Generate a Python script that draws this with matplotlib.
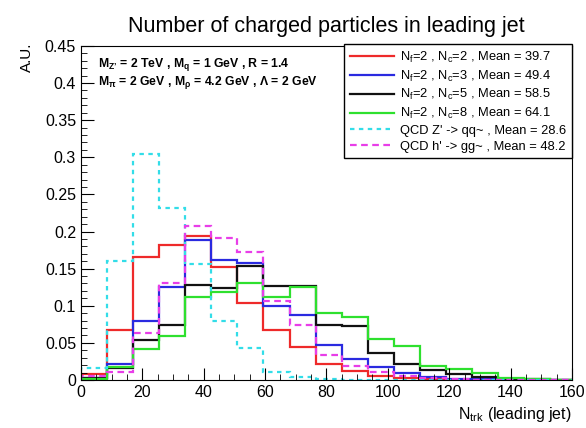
import numpy as np
import matplotlib
matplotlib.use('Agg')
import matplotlib.pyplot as plt
from matplotlib.ticker import MultipleLocator

plt.rcParams['font.family'] = ['Liberation Sans', 'DejaVu Sans']
plt.rcParams['mathtext.fontset'] = 'custom'
plt.rcParams['mathtext.rm'] = 'Liberation Sans'
plt.rcParams['mathtext.it'] = 'Liberation Sans'
plt.rcParams['mathtext.bf'] = 'Liberation Sans:bold'

# histogram binning: 20 bins of width 8.5 from 0 to 170
bin_edges = np.linspace(0, 170, 21)

# normalised bin contents
nc2 = [0.008, 0.067, 0.166, 0.182, 0.194, 0.152, 0.104, 0.067, 0.044, 0.021,
       0.012, 0.006, 0.003, 0.001, 0.0, 0.0, 0.0, 0.0, 0.0, 0.0]
nc3 = [0.003, 0.021, 0.079, 0.125, 0.188, 0.161, 0.158, 0.100, 0.088, 0.047,
       0.028, 0.017, 0.009, 0.004, 0.002, 0.001, 0.0, 0.0, 0.0, 0.0]
nc5 = [0.003, 0.016, 0.054, 0.074, 0.128, 0.124, 0.154, 0.127, 0.126, 0.074,
       0.073, 0.036, 0.021, 0.013, 0.008, 0.0045, 0.002, 0.001, 0.0, 0.0]
nc8 = [0.002, 0.018, 0.042, 0.059, 0.112, 0.118, 0.131, 0.112, 0.125, 0.090,
       0.085, 0.055, 0.046, 0.019, 0.015, 0.010, 0.003, 0.001, 0.0, 0.0]
qcd_zp = [0.016, 0.160, 0.305, 0.231, 0.156, 0.079, 0.043, 0.011, 0.004, 0.002,
          0.0, 0.0, 0.0, 0.0, 0.0, 0.0, 0.0, 0.0, 0.0, 0.0]
qcd_hp = [0.005, 0.011, 0.064, 0.131, 0.207, 0.191, 0.173, 0.106, 0.074, 0.034,
          0.019, 0.011, 0.005, 0.003, 0.001, 0.0, 0.0, 0.0, 0.0, 0.0]

labels = [r'N$_{\rm f}$=2 , N$_{\rm c}$=2 , Mean = 39.7',
          r'N$_{\rm f}$=2 , N$_{\rm c}$=3 , Mean = 49.4',
          r'N$_{\rm f}$=2 , N$_{\rm c}$=5 , Mean = 58.5',
          r'N$_{\rm f}$=2 , N$_{\rm c}$=8 , Mean = 64.1',
          "QCD Z' -> qq~ , Mean = 28.6",
          "QCD h' -> gg~ , Mean = 48.2"]

fig = plt.figure(figsize=(5.86, 4.28), dpi=100)
ax = fig.add_axes([0.138, 0.112, 0.838, 0.781])

ax.stairs(nc2, bin_edges, color='#ee2a2a', lw=1.6, label=labels[0])
ax.stairs(nc3, bin_edges, color='#2a2ae0', lw=1.6, label=labels[1])
ax.stairs(nc5, bin_edges, color='#111111', lw=1.6, label=labels[2])
ax.stairs(nc8, bin_edges, color='#2ee02e', lw=1.6, label=labels[3])
ax.stairs(qcd_zp, bin_edges, color='#33dde8', lw=1.6, ls=(0, (2, 2)), label=labels[4])
ax.stairs(qcd_hp, bin_edges, color='#e83ee8', lw=1.6, ls=(0, (3, 2)), label=labels[5])

ax.set_xlim(0, 160)
ax.set_ylim(0, 0.45)
ax.xaxis.set_major_locator(MultipleLocator(20))
ax.xaxis.set_minor_locator(MultipleLocator(5))
ax.yaxis.set_major_locator(MultipleLocator(0.05))
ax.yaxis.set_minor_locator(MultipleLocator(0.01))
ax.yaxis.set_major_formatter(matplotlib.ticker.FuncFormatter(lambda v, p: f'{v:g}'))
ax.tick_params(which='both', direction='in', top=False, right=False, labelsize=11.5)
ax.tick_params(which='major', length=9)
ax.tick_params(which='minor', length=4.5)

ax.set_title('Number of charged particles in leading jet', fontsize=15.5, pad=10)
ax.text(-0.125, 1.01, 'A.U.', rotation=90, ha='left', va='top', fontsize=11,
        transform=ax.transAxes)
ax.text(1.0, -0.075, r'N$_{\rm trk}$ (leading jet)', ha='right', va='top', fontsize=11.5,
        transform=ax.transAxes)

ax.text(0.035, 0.97, "M$_{\\mathbf{Z\u2019}}$ = 2 TeV , M$_{\\mathbf{q}}$ = 1 GeV , R = 1.4",
        transform=ax.transAxes, fontsize=8.8, weight='bold', va='top')
ax.text(0.035, 0.917, "M$_{\\mathbf{\u03c0}}$ = 2 GeV , M$_{\\mathbf{\u03c1}}$ = 4.2 GeV , \u039b = 2 GeV",
        transform=ax.transAxes, fontsize=8.8, weight='bold', va='top')

leg = ax.legend(loc='upper right', bbox_to_anchor=(1.0, 1.005), borderaxespad=0.0,
                fontsize=9.3, frameon=True, fancybox=False, edgecolor='black',
                framealpha=1.0, handlelength=3.4, handletextpad=0.5,
                labelspacing=0.28, borderpad=0.45)
leg.get_frame().set_linewidth(1.0)

fig.savefig('out.png', dpi=100)
